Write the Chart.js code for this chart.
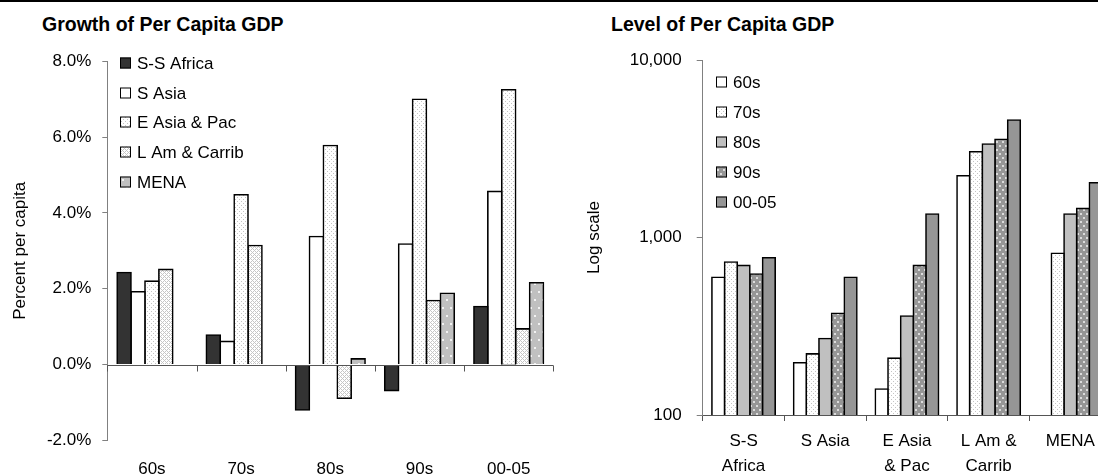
<!DOCTYPE html>
<html>
<head>
<meta charset="utf-8">
<script src="https://cdn.jsdelivr.net/npm/chart.js@4.4.1/dist/chart.umd.min.js"></script>
<style>
  html, body { margin: 0; padding: 0; background: #fff; overflow: hidden; width: 1098px; height: 475px; }
  body { position: relative; font-family: "Liberation Sans", Arial, sans-serif; }
  .topline { position: absolute; left: 0; top: 0; width: 1098px; height: 2px; background: #000; }
  .title { position: absolute; font-weight: bold; font-size: 19.5px; line-height: 20px; color: #000; white-space: nowrap; }
  .wrap { position: absolute; top: 0; height: 475px; }
</style>
</head>
<body>
<div class="topline"></div>
<div class="title" style="left:42px; top:14px;">Growth of Per Capita GDP</div>
<div class="title" style="left:611px; top:14px;">Level of Per Capita GDP</div>
<div class="wrap" style="left:0; width:560px;"><canvas id="growth" width="560" height="475"></canvas></div>
<div class="wrap" style="left:560px; width:560px;"><canvas id="level" width="560" height="475"></canvas></div>
<script>
// ---------- data ----------
const growthCategories = ['60s', '70s', '80s', '90s', '00-05'];
const growthSSAfrica   = [2.43, 0.78, -1.20, -0.69, 1.53];
const growthSAsia      = [1.92, 0.61, 3.38, 3.18, 4.57];
const growthEAsiaPac   = [2.20, 4.48, 5.78, 7.00, 7.25];
const growthLAmCarrib  = [2.51, 3.14, -0.89, 1.69, 0.94];
const growthMENA       = [null, null, 0.15, 1.88, 2.16];
const growthTicks      = [-2, 0, 2, 4, 6, 8];

const levelCategories = [['S-S', 'Africa'], ['S Asia'], ['E Asia', '& Pac'], ['L Am &', 'Carrib'], ['MENA']];
const level60s  = [597, 197, 140, 2230, null];
const level70s  = [728, 221, 209, 3043, 815];
const level80s  = [697, 270, 361, 3365, 1357];
const level90s  = [623, 374, 697, 3575, 1460];
const level0005 = [769, 597, 1357, 4592, 2035];
const levelTicks = [100, 1000, 10000];

// ---------- patterns ----------
function makePattern(w, h, bg, fg, pts, size) {
  const c = document.createElement('canvas');
  c.width = w; c.height = h;
  const g = c.getContext('2d');
  g.fillStyle = bg; g.fillRect(0, 0, w, h);
  g.fillStyle = fg;
  pts.forEach(p => g.fillRect(p[0], p[1], size, size));
  return g.createPattern(c, 'repeat');
}
function crossPattern(bg, fg) {
  const c = document.createElement('canvas');
  c.width = 4; c.height = 4;
  const g = c.getContext('2d');
  g.fillStyle = bg; g.fillRect(0, 0, 4, 4);
  g.fillStyle = fg;
  for (let x = 0; x < 4; x++) for (let y = 0; y < 4; y++) {
    if ((x + y) % 4 === 0 || ((x - y) + 4) % 4 === 0) g.fillRect(x, y, 1, 1);
  }
  return g.createPattern(c, 'repeat');
}
const dotLight   = makePattern(4, 4, '#ffffff', '#c4c4c4', [[1, 1], [3, 3]], 1);
const crossLight = crossPattern('#ffffff', '#c6c6c6');
const menaDots   = makePattern(8, 16, '#c0c0c0', '#f2f2f2', [[2, 3], [6, 11]], 2);
const darkDots   = makePattern(6, 8, '#969696', '#dcdcdc', [[1, 1], [4, 5]], 2);

Chart.defaults.font.family = "'Liberation Sans', Arial, sans-serif";
Chart.defaults.font.size = 17;
Chart.defaults.color = '#000';

// ---------- plugins ----------
const boxLegend = {
  id: 'boxLegend',
  afterDraw(chart, args, opts) {
    const ctx = chart.ctx;
    ctx.save();
    ctx.font = "17px 'Liberation Sans', Arial, sans-serif";
    ctx.textBaseline = 'middle';
    ctx.textAlign = 'left';
    chart.data.datasets.forEach((ds, i) => {
      const cy = Math.round(opts.top + i * opts.spacing);
      const bx = opts.left, s = opts.box;
      ctx.fillStyle = ds.backgroundColor;
      ctx.fillRect(bx, cy - s / 2, s, s);
      ctx.strokeStyle = '#000';
      ctx.lineWidth = 1;
      ctx.strokeRect(bx + 0.5, cy - s / 2 + 0.5, s - 1, s - 1);
      ctx.fillStyle = '#000';
      ctx.fillText(ds.label, bx + opts.gap, cy + 1);
    });
    ctx.restore();
  }
};
const zeroAxis = {
  id: 'zeroAxis',
  afterDatasetsDraw(chart, args, opts) {
    if (!opts || !opts.enabled) return;
    const x = chart.scales.x, y = chart.scales.y, ctx = chart.ctx;
    const yz = Math.round(y.getPixelForValue(0)) + 0.5;
    const n = chart.data.labels.length;
    ctx.save();
    ctx.strokeStyle = opts.color;
    ctx.lineWidth = 1;
    ctx.beginPath();
    ctx.moveTo(x.left, yz); ctx.lineTo(x.right, yz);
    for (let i = 0; i <= n; i++) {
      const px = Math.round(x.left + i * x.width / n) + 0.5;
      ctx.moveTo(px, yz); ctx.lineTo(px, yz + opts.tick);
    }
    ctx.stroke();
    ctx.restore();
  }
};

// outline centred on the bar edge, so touching bars share one line
const barStyle = { borderColor: '#000', borderWidth: 1.6, inflateAmount: 0.8, barPercentage: 1 };

// ---------- growth chart ----------
new Chart(document.getElementById('growth'), {
  type: 'bar',
  data: {
    labels: growthCategories,
    datasets: [
      Object.assign({ label: 'S-S Africa',     data: growthSSAfrica,  backgroundColor: '#333333' }, barStyle),
      Object.assign({ label: 'S Asia',         data: growthSAsia,     backgroundColor: '#ffffff' }, barStyle),
      Object.assign({ label: 'E Asia & Pac',   data: growthEAsiaPac,  backgroundColor: dotLight }, barStyle),
      Object.assign({ label: 'L Am & Carrib',  data: growthLAmCarrib, backgroundColor: crossLight }, barStyle),
      Object.assign({ label: 'MENA',           data: growthMENA,      backgroundColor: menaDots }, barStyle)
    ]
  },
  options: {
    responsive: false, animation: false, devicePixelRatio: 1,
    layout: { padding: { top: 61.4, left: 0, right: 6.7, bottom: 0 } },
    datasets: { bar: { categoryPercentage: 0.78 } },
    plugins: {
      legend: { display: false }, tooltip: { enabled: false },
      boxLegend: { left: 120, top: 62.7, spacing: 29.8, box: 11, gap: 17 },
      zeroAxis: { enabled: true, color: '#555', tick: 6 }
    },
    scales: {
      x: {
        grid: { display: false, drawTicks: false },
        border: { display: false },
        ticks: { padding: 19, maxRotation: 0, autoSkip: false },
        afterFit: s => { s.height = 34.7; }
      },
      y: {
        min: -2, max: 8,
        afterBuildTicks: s => { s.ticks = growthTicks.map(v => ({ value: v })); },
        ticks: { padding: 11, callback: v => v.toFixed(1) + '%' },
        grid: { drawOnChartArea: false, drawTicks: true, tickLength: 5, color: '#808080' },
        border: { color: '#808080' },
        title: { display: true, text: 'Percent per capita', padding: { top: 10.6, bottom: 0 }, font: { size: 17 } },
        afterFit: s => { s.width = 107.3; }
      }
    }
  },
  plugins: [boxLegend, zeroAxis]
});

// ---------- level chart ----------
new Chart(document.getElementById('level'), {
  type: 'bar',
  data: {
    labels: levelCategories,
    datasets: [
      Object.assign({ label: '60s',   data: level60s,  backgroundColor: '#ffffff' }, barStyle),
      Object.assign({ label: '70s',   data: level70s,  backgroundColor: dotLight }, barStyle),
      Object.assign({ label: '80s',   data: level80s,  backgroundColor: '#c0c0c0' }, barStyle),
      Object.assign({ label: '90s',   data: level90s,  backgroundColor: darkDots }, barStyle),
      Object.assign({ label: '00-05', data: level0005, backgroundColor: '#969696' }, barStyle)
    ]
  },
  options: {
    responsive: false, animation: false, devicePixelRatio: 1,
    layout: { padding: { top: 60, left: 0, right: 8.8, bottom: 0 } },
    datasets: { bar: { categoryPercentage: 0.775 } },
    plugins: {
      legend: { display: false }, tooltip: { enabled: false },
      boxLegend: { left: 156, top: 82.3, spacing: 29.9, box: 11, gap: 17 }
    },
    scales: {
      x: {
        grid: { display: true, drawOnChartArea: false, drawTicks: true, tickLength: 6, offset: true, color: '#555' },
        border: { display: true, color: '#555' },
        ticks: { padding: 8, maxRotation: 0, autoSkip: false, font: { size: 17, lineHeight: 25 / 17 } },
        afterFit: s => { s.height = 60; }
      },
      y: {
        type: 'logarithmic',
        min: 100, max: 10000,
        afterBuildTicks: s => { s.ticks = levelTicks.map(v => ({ value: v })); },
        ticks: { padding: 15, callback: v => Number(v).toLocaleString('en-US') },
        grid: { drawOnChartArea: false, drawTicks: true, tickLength: 6, color: '#808080' },
        border: { color: '#808080' },
        title: { display: true, text: 'Log scale', padding: { top: 24.4, bottom: 0 }, font: { size: 17 } },
        afterFit: s => { s.width = 142.7; }
      }
    }
  },
  plugins: [boxLegend]
});
</script>
</body>
</html>
